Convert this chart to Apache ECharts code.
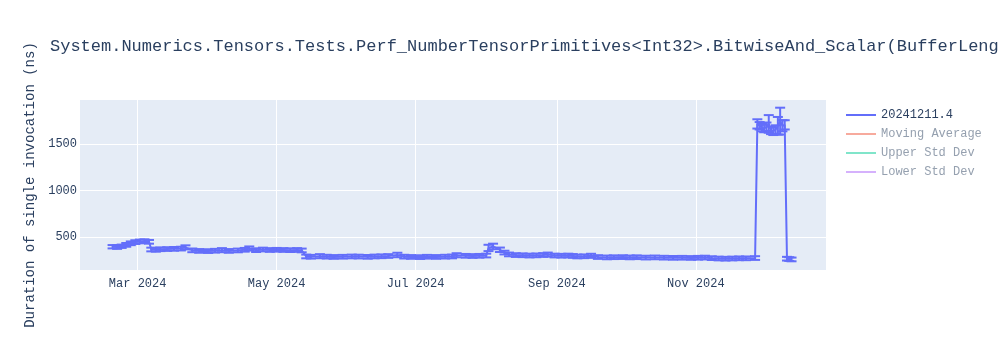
<!DOCTYPE html>
<html>
<head>
<meta charset="utf-8">
<script src="https://cdn.jsdelivr.net/npm/echarts@6/dist/echarts.min.js"></script>
<style>html,body{margin:0;padding:0;background:#fff}#c{width:1000px;height:350px}</style>
</head>
<body>
<div id="c"></div>
<script>
const titleText = 'System.Numerics.Tensors.Tests.Perf_NumberTensorPrimitives<Int32>.BitwiseAnd_Scalar(BufferLength: 128)';
const yAxisTitle = 'Duration of single invocation (ns)';
const seriesNames = ['20241211.4', 'Moving Average', 'Upper Std Dev', 'Lower Std Dev'];
const xTickDates = ['2024-03-01', '2024-05-01', '2024-07-01', '2024-09-01', '2024-11-01'];
const yTickValues = [500, 1000, 1500];
const xRange = ['2024-02-04T17:00:00', '2024-12-28T03:00:00'];
const yRange = [144, 1978];

const dates = [
 '2024-02-19','2024-02-21','2024-02-23','2024-02-25','2024-02-27','2024-02-29','2024-03-02','2024-03-04','2024-03-06',
 '2024-03-07','2024-03-09','2024-03-11','2024-03-14','2024-03-17','2024-03-20','2024-03-22','2024-03-25','2024-03-28',
 '2024-04-01','2024-04-04','2024-04-07','2024-04-10','2024-04-14','2024-04-17','2024-04-19','2024-04-22','2024-04-25',
 '2024-04-28','2024-05-01','2024-05-04','2024-05-07','2024-05-10','2024-05-12','2024-05-14','2024-05-16','2024-05-20',
 '2024-05-23','2024-05-26','2024-05-30','2024-06-03','2024-06-06','2024-06-10','2024-06-13','2024-06-16','2024-06-19',
 '2024-06-23','2024-06-26','2024-06-29','2024-07-03','2024-07-06','2024-07-10','2024-07-14','2024-07-17','2024-07-19',
 '2024-07-23','2024-07-26','2024-07-29','2024-08-01','2024-08-02','2024-08-04','2024-08-07','2024-08-09','2024-08-11',
 '2024-08-14','2024-08-17','2024-08-20','2024-08-23','2024-08-26','2024-08-28','2024-08-31','2024-09-03','2024-09-06',
 '2024-09-08','2024-09-10','2024-09-13','2024-09-16','2024-09-19','2024-09-23','2024-09-26','2024-09-30','2024-10-03',
 '2024-10-06','2024-10-10','2024-10-14','2024-10-18','2024-10-22','2024-10-26','2024-10-30','2024-11-02','2024-11-05',
 '2024-11-08','2024-11-11','2024-11-14','2024-11-17','2024-11-20','2024-11-23','2024-11-27','2024-11-28','2024-11-29',
 '2024-11-30','2024-12-01','2024-12-02','2024-12-03','2024-12-04','2024-12-05','2024-12-06','2024-12-07','2024-12-08',
 '2024-12-09','2024-12-10','2024-12-11','2024-12-12','2024-12-13'
];
const values = [
 395,392,400,415,432,445,452,455,448,
 365,362,368,370,372,375,388,356,350,
 348,352,358,350,355,362,376,358,365,
 360,362,360,358,360,355,290,287,293,
 288,285,287,290,289,286,290,292,295,
 306,288,285,283,287,285,288,290,303,
 297,295,297,300,382,398,362,332,312,
 305,303,300,302,306,310,300,298,300,
 296,290,292,297,284,280,282,283,280,
 282,278,280,277,275,276,274,276,278,
 272,268,266,268,270,270,273,1720,1700,
 1680,1670,1690,1720,1650,1640,1660,1700,1750,
 1700,1710,266,262,258,260
];
const errors = [
 18,20,18,20,20,20,20,20,20,
 20,20,20,20,20,20,22,20,20,
 20,20,22,20,20,20,22,20,20,
 20,20,20,20,20,20,20,20,22,
 20,20,20,20,20,20,20,20,20,
 24,20,20,20,20,20,20,20,22,
 20,20,20,20,34,30,24,20,20,
 20,20,20,20,20,22,20,20,20,
 20,20,20,22,20,20,20,20,20,
 20,20,20,20,20,20,20,20,20,
 20,20,20,20,20,20,20,50,40,
 40,40,45,95,40,40,45,95,145,
 60,50,20,20,20,20
];

const blue = '#636efa';
const ts = s => new Date(s.length > 10 ? s : s + 'T00:00:00').getTime();
const lineData = dates.map((d, i) => [ts(d), values[i]]);
const errData = dates.map((d, i) => [ts(d), values[i] - errors[i], values[i] + errors[i]]);
const xTicks = xTickDates.map(ts);
const monthNames = ['Jan','Feb','Mar','Apr','May','Jun','Jul','Aug','Sep','Oct','Nov','Dec'];

const fontFam = '"Courier New", "Liberation Mono", monospace';
const chart = echarts.init(document.getElementById('c'), null, {renderer: 'canvas'});
chart.setOption({
  animation: false,
  backgroundColor: '#fff',
  title: {
    text: titleText, left: 50, top: 38, padding: 0,
    textStyle: {fontFamily: fontFam, fontSize: 17, fontWeight: 'normal', color: '#2a3f5f'}
  },
  grid: {left: 80, right: 174, top: 100, bottom: 80, show: true, backgroundColor: '#E5ECF6', borderWidth: 0},
  legend: {
    orient: 'vertical', left: 846, top: 108, padding: 0, itemWidth: 30, itemHeight: 2, itemGap: 5, icon: 'rect',
    selectedMode: false,
    textStyle: {fontFamily: fontFam, fontSize: 12, color: '#2a3f5f', lineHeight: 14},
    data: [
      {name: seriesNames[0]},
      {name: seriesNames[1], textStyle: {color: '#95a0af'}},
      {name: seriesNames[2], textStyle: {color: '#95a0af'}},
      {name: seriesNames[3], textStyle: {color: '#95a0af'}}
    ]
  },
  xAxis: {
    type: 'value', min: ts(xRange[0]), max: ts(xRange[1]),
    axisLine: {show: false}, axisTick: {show: false, customValues: xTicks},
    splitLine: {show: true, lineStyle: {color: '#fff', width: 1}},
    axisLabel: {
      customValues: xTicks, margin: 8, color: '#2a3f5f', fontFamily: fontFam, fontSize: 12,
      formatter: v => { const d = new Date(v); return monthNames[d.getMonth()] + ' ' + d.getFullYear(); }
    }
  },
  yAxis: {
    type: 'value', min: yRange[0], max: yRange[1],
    name: yAxisTitle, nameLocation: 'middle', nameGap: 42,
    nameTextStyle: {fontFamily: fontFam, fontSize: 14, color: '#2a3f5f'},
    axisLine: {show: false}, axisTick: {show: false, customValues: yTickValues},
    splitLine: {show: true, lineStyle: {color: '#fff', width: 1}},
    axisLabel: {customValues: yTickValues, margin: 3, color: '#2a3f5f', fontFamily: fontFam, fontSize: 12,
      formatter: v => String(v)}
  },
  series: [
    {
      name: seriesNames[0], type: 'line', data: lineData, showSymbol: false, symbol: 'none',
      color: blue, lineStyle: {color: blue, width: 2}, z: 3
    },
    {
      name: 'errbars', type: 'custom', data: errData, z: 2,
      renderItem: (params, api) => {
        const x = api.value(0);
        const lo = api.coord([x, api.value(1)]);
        const hi = api.coord([x, api.value(2)]);
        const hw = 5;
        const st = {stroke: blue, lineWidth: 2};
        return {type: 'group', children: [
          {type: 'line', shape: {x1: lo[0], y1: lo[1], x2: hi[0], y2: hi[1]}, style: st},
          {type: 'line', shape: {x1: hi[0] - hw, y1: hi[1], x2: hi[0] + hw, y2: hi[1]}, style: st},
          {type: 'line', shape: {x1: lo[0] - hw, y1: lo[1], x2: lo[0] + hw, y2: lo[1]}, style: st}
        ]};
      }
    },
    {name: seriesNames[1], type: 'line', data: [], color: '#f7aa9d'},
    {name: seriesNames[2], type: 'line', data: [], color: '#80e5ca'},
    {name: seriesNames[3], type: 'line', data: [], color: '#d5b1fc'}
  ]
});
</script>
</body>
</html>
